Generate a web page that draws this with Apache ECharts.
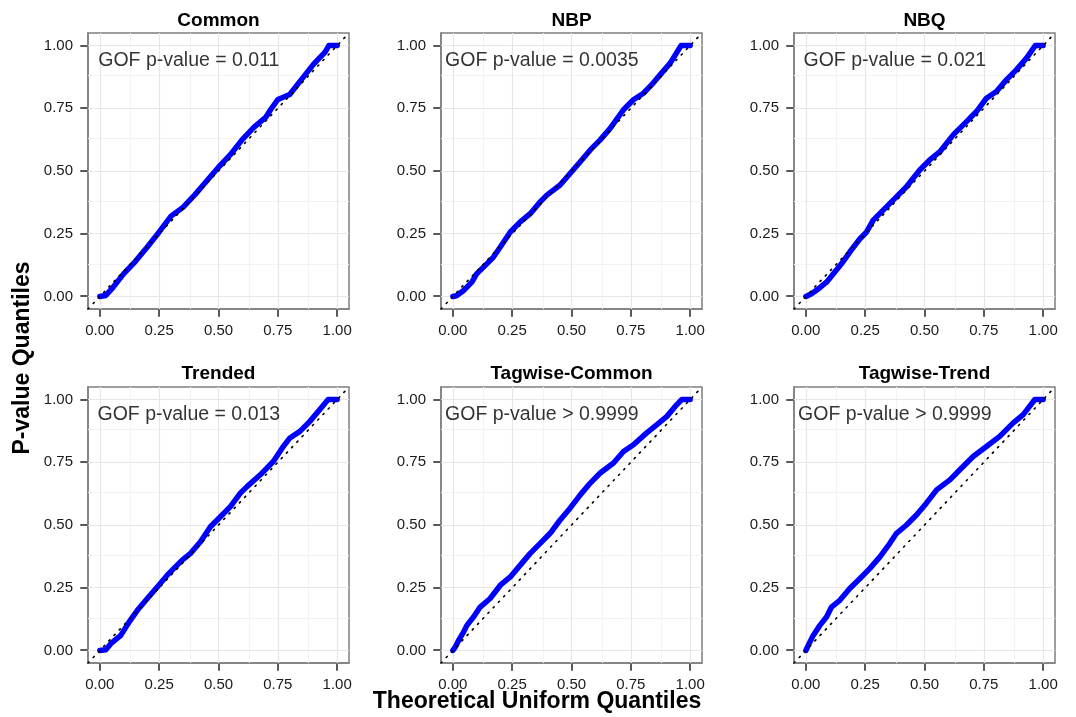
<!DOCTYPE html>
<html>
<head>
<meta charset="utf-8">
<script src="https://cdn.jsdelivr.net/npm/echarts@6/dist/echarts.min.js"></script>
<style>
html,body{margin:0;padding:0;background:#fff;}
#chart{width:1076px;height:717px;}
</style>
</head>
<body>
<div id="chart"></div>
<script>
// ---- data ----
const panelTitles = ['Common', 'NBP', 'NBQ', 'Trended', 'Tagwise-Common', 'Tagwise-Trend'];
const gofLabels = ['GOF p-value = 0.011', 'GOF p-value = 0.0035', 'GOF p-value = 0.021',
                   'GOF p-value = 0.013', 'GOF p-value > 0.9999', 'GOF p-value > 0.9999'];
const majorTicks = [0, 0.25, 0.5, 0.75, 1];
const minorTicks = [0.125, 0.375, 0.625, 0.875];

const commonX = [0, 0.025, 0.05, 0.1, 0.15, 0.2, 0.25, 0.3, 0.35, 0.4, 0.45, 0.5, 0.55, 0.6, 0.65, 0.7, 0.72, 0.75, 0.8, 0.85, 0.9, 0.95, 0.965, 1.0];
const commonY = [0, 0.004, 0.03, 0.09, 0.14, 0.197, 0.257, 0.32, 0.355, 0.405, 0.46, 0.515, 0.565, 0.625, 0.675, 0.715, 0.745, 0.785, 0.805, 0.865, 0.925, 0.975, 1.0, 1.0];

const nbpX = [0, 0.015, 0.045, 0.08, 0.1, 0.143, 0.171, 0.2, 0.242, 0.284, 0.326, 0.368, 0.396, 0.452, 0.494, 0.537, 0.579, 0.621, 0.663, 0.719, 0.761, 0.803, 0.838, 0.874, 0.916, 0.962, 1.0];
const nbpY = [0, 0.003, 0.024, 0.057, 0.09, 0.13, 0.157, 0.197, 0.257, 0.297, 0.33, 0.377, 0.404, 0.444, 0.49, 0.537, 0.584, 0.624, 0.67, 0.744, 0.784, 0.81, 0.844, 0.884, 0.93, 1.0, 1.0];

const nbqX = [0, 0.024, 0.059, 0.087, 0.122, 0.15, 0.185, 0.228, 0.256, 0.284, 0.326, 0.368, 0.424, 0.48, 0.522, 0.565, 0.621, 0.677, 0.719, 0.761, 0.803, 0.846, 0.888, 0.93, 0.967, 1.0];
const nbqY = [0, 0.011, 0.035, 0.057, 0.097, 0.13, 0.177, 0.23, 0.257, 0.304, 0.344, 0.384, 0.437, 0.504, 0.544, 0.577, 0.644, 0.697, 0.737, 0.79, 0.817, 0.864, 0.904, 0.95, 1.0, 1.0];

const trendedX = [0, 0.025, 0.046, 0.088, 0.123, 0.158, 0.2, 0.242, 0.284, 0.312, 0.347, 0.382, 0.424, 0.466, 0.508, 0.55, 0.592, 0.62, 0.676, 0.731, 0.773, 0.801, 0.843, 0.885, 0.927, 0.962, 1.0];
const trendedY = [0, 0.003, 0.027, 0.06, 0.113, 0.16, 0.207, 0.253, 0.3, 0.327, 0.36, 0.387, 0.433, 0.493, 0.533, 0.573, 0.627, 0.653, 0.7, 0.753, 0.813, 0.847, 0.873, 0.913, 0.96, 1.0, 1.0];

const tagCommonX = [0, 0.01, 0.024, 0.045, 0.059, 0.087, 0.115, 0.157, 0.2, 0.242, 0.284, 0.326, 0.368, 0.41, 0.452, 0.494, 0.537, 0.579, 0.621, 0.677, 0.719, 0.761, 0.817, 0.86, 0.902, 0.944, 0.965, 1.0];
const tagCommonY = [0, 0.013, 0.04, 0.073, 0.1, 0.133, 0.173, 0.207, 0.26, 0.293, 0.34, 0.387, 0.427, 0.467, 0.52, 0.567, 0.62, 0.667, 0.707, 0.747, 0.793, 0.82, 0.867, 0.9, 0.933, 0.98, 1.0, 1.0];

const tagTrendX = [0, 0.01, 0.031, 0.059, 0.087, 0.108, 0.143, 0.185, 0.228, 0.27, 0.312, 0.354, 0.382, 0.424, 0.466, 0.508, 0.551, 0.607, 0.649, 0.705, 0.761, 0.817, 0.874, 0.916, 0.965, 1.0];
const tagTrendY = [0, 0.02, 0.06, 0.1, 0.133, 0.173, 0.2, 0.247, 0.287, 0.327, 0.373, 0.427, 0.467, 0.5, 0.54, 0.587, 0.64, 0.68, 0.72, 0.773, 0.813, 0.853, 0.907, 0.94, 1.0, 1.0];

const panelX = [commonX, nbpX, nbqX, trendedX, tagCommonX, tagTrendX];
const panelY = [commonY, nbpY, nbqY, trendedY, tagCommonY, tagTrendY];

// ---- layout ----
const AX_MIN = -0.05, AX_MAX = 1.05;
const colLeft = [88, 441, 794];
const rowTop = [33, 387];
const gW = 261, gH = 276;
const TICK_LEN = 7;
const FONT = '"Liberation Sans", Arial, Helvetica, sans-serif';

const grids = [], xAxes = [], yAxes = [], series = [], graphics = [];

function axisCommon(gi, isX) {
  return {
    type: 'value', gridIndex: gi, min: AX_MIN, max: AX_MAX,
    position: isX ? 'bottom' : 'left',
    axisLine: { show: true, onZero: false, lineStyle: { color: '#7f7f7f', width: 1.5 } },
    splitLine: { show: false },
    axisTick: { show: false },
    axisLabel: {
      show: true, customValues: majorTicks, formatter: v => v.toFixed(2),
      fontFamily: FONT, fontSize: 15, color: '#1a1a1a', margin: isX ? 14 : 15
    }
  };
}

for (let i = 0; i < 6; i++) {
  const row = Math.floor(i / 3), col = i % 3;
  grids.push({
    left: colLeft[col], top: rowTop[row], width: gW, height: gH,
    show: true, backgroundColor: '#fff', borderColor: '#7f7f7f', borderWidth: 1.5,
    containLabel: false
  });
  xAxes.push(axisCommon(i, true));
  yAxes.push(axisCommon(i, false));

  const gridLines = [];
  minorTicks.forEach(v => {
    gridLines.push({ xAxis: v, lineStyle: { color: '#f3f3f3', width: 1, type: 'solid' } });
    gridLines.push({ yAxis: v, lineStyle: { color: '#f3f3f3', width: 1, type: 'solid' } });
  });
  majorTicks.forEach(v => {
    gridLines.push({ xAxis: v, lineStyle: { color: '#e6e6e6', width: 1.2, type: 'solid' } });
    gridLines.push({ yAxis: v, lineStyle: { color: '#e6e6e6', width: 1.2, type: 'solid' } });
  });

  // grid lines (background)
  series.push({
    type: 'line', xAxisIndex: i, yAxisIndex: i, z: 1,
    data: [[0.5, 0.5]], symbol: 'none', silent: true,
    lineStyle: { width: 0 },
    markLine: { z: 1, zlevel: 0, silent: true, symbol: 'none', label: { show: false },
                animation: false, data: gridLines }
  });

  // QQ points (dense band)
  const pts = panelX[i].map((x, k) => [x, panelY[i][k]]);
  series.push({
    type: 'line', xAxisIndex: i, yAxisIndex: i, z: 3,
    data: pts, symbol: 'none', showSymbol: false,
    lineStyle: { color: '#0000ff', width: 5.5, cap: 'round', join: 'round' },
    animation: false, silent: true
  });

  // dotted identity line
  series.push({
    type: 'line', xAxisIndex: i, yAxisIndex: i, z: 4,
    data: [[AX_MIN, AX_MIN], [AX_MAX, AX_MAX]], symbol: 'none',
    lineStyle: { color: '#000', width: 1.6, type: [1.4, 6.2], cap: 'round' },
    animation: false, silent: true
  });

  // GOF label
  series.push({
    type: 'scatter', xAxisIndex: i, yAxisIndex: i, z: 5,
    data: [[0.375, 0.94]], symbolSize: 0, silent: true, animation: false,
    label: { show: true, position: 'inside', formatter: gofLabels[i],
             fontFamily: FONT, fontSize: 19.5, color: '#000', textBorderWidth: 0 }
  });

  graphics.push({
    type: 'text', x: colLeft[col] + gW / 2, y: row === 0 ? 21 : 374,
    style: { text: panelTitles[i], textAlign: 'center', textVerticalAlign: 'middle',
             font: 'bold 19px ' + FONT, fill: '#000' }
  });
}

graphics.push({
  type: 'text', x: 537, y: 702,
  style: { text: 'Theoretical Uniform Quantiles', textAlign: 'center', textVerticalAlign: 'middle',
           font: 'bold 23px ' + FONT, fill: '#000' }
});
graphics.push({
  type: 'text', x: 23, y: 358, rotation: Math.PI / 2,
  style: { text: 'P-value Quantiles', textAlign: 'center', textVerticalAlign: 'middle',
           font: 'bold 23px ' + FONT, fill: '#000' }
});

const chart = echarts.init(document.getElementById('chart'), null, { renderer: 'canvas' });
chart.setOption({
  animation: false,
  backgroundColor: '#fff',
  grid: grids, xAxis: xAxes, yAxis: yAxes, series: series,
  graphic: graphics
});

// axis ticks, positioned through each panel's own axis scales
const tickGraphics = [];
for (let i = 0; i < 6; i++) {
  const yBottom = chart.convertToPixel({ yAxisIndex: i }, AX_MIN);
  const xLeft = chart.convertToPixel({ xAxisIndex: i }, AX_MIN);
  majorTicks.forEach(v => {
    const xv = chart.convertToPixel({ xAxisIndex: i }, v);
    const yv = chart.convertToPixel({ yAxisIndex: i }, v);
    if (isFinite(xv) && isFinite(yBottom)) tickGraphics.push({
      type: 'rect', z: 100, silent: true,
      shape: { x: Math.round(xv) - 0.75, y: yBottom + 0.75, width: 1.5, height: TICK_LEN },
      style: { fill: '#222' }
    });
    if (isFinite(yv) && isFinite(xLeft)) tickGraphics.push({
      type: 'rect', z: 100, silent: true,
      shape: { x: xLeft - 0.75 - TICK_LEN, y: Math.round(yv) - 0.75, width: TICK_LEN, height: 1.5 },
      style: { fill: '#222' }
    });
  });
}
chart.setOption({ graphic: graphics.concat(tickGraphics) });
</script>
</body>
</html>
